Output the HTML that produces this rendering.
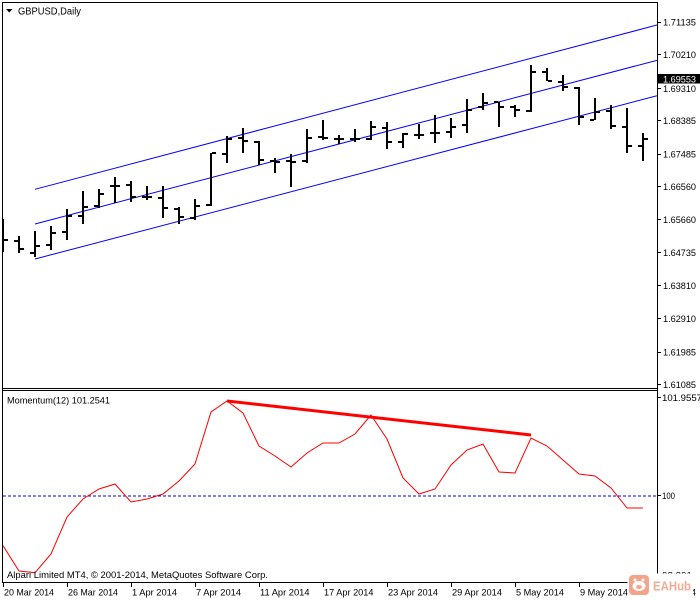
<!DOCTYPE html>
<html><head><meta charset="utf-8"><style>
html,body{margin:0;padding:0;background:#fff;}
svg{display:block;}
text{font-family:"Liberation Sans",Arial,sans-serif;}
</style></head><body>
<svg width="700" height="600" viewBox="0 0 700 600" xmlns="http://www.w3.org/2000/svg">
<defs>
<clipPath id="cm"><rect x="3" y="3" width="654" height="385"/></clipPath>
<clipPath id="ci"><rect x="3" y="391" width="654" height="191"/></clipPath>
<clipPath id="cax"><rect x="658" y="391" width="42" height="191"/></clipPath>
</defs>
<rect x="0" y="0" width="700" height="600" fill="#fff"/>

<!-- frame -->
<g stroke="#000" stroke-width="1" shape-rendering="crispEdges" fill="none">
<line x1="2" y1="2.5" x2="658" y2="2.5"/>
<line x1="2.5" y1="2" x2="2.5" y2="583"/>
<line x1="657.5" y1="2" x2="657.5" y2="583"/>
<line x1="2" y1="388.5" x2="658" y2="388.5"/>
<line x1="2" y1="390.5" x2="658" y2="390.5"/>
<line x1="2" y1="582.5" x2="658" y2="582.5"/>
</g>

<!-- title -->
<polygon points="6,9 12.5,9 9.25,12.5" fill="#000"/>
<text x="18" y="14.5" font-size="10" textLength="63" lengthAdjust="spacingAndGlyphs" fill="#000">GBPUSD,Daily</text>

<!-- channel lines -->
<g clip-path="url(#cm)" stroke="#0000ff" stroke-width="1" fill="none">
<line x1="35" y1="189.3" x2="657" y2="25"/>
<line x1="35" y1="224" x2="657" y2="60.3"/>
<line x1="35" y1="259" x2="657" y2="95.7"/>
</g>

<!-- bars -->
<path clip-path="url(#cm)" stroke="#000" stroke-width="2" fill="none" shape-rendering="crispEdges" d="
M3,219V252M-2,235H2M4,240H8
M19,236V253M14,241H18M20,249H24
M35,231V257M30,253H34M36,246H40
M51,226V250M46,245H50M52,233H56
M67,209V240M62,232H66M68,216H72
M83,191V224M78,216H82M84,207H88
M99,189V208M94,206H98M100,194H104
M115,177V203M110,186H114M116,186H120
M131,181V202M126,185H130M132,197H136
M147,186V200M142,197H146M148,197H152
M163,186V218M158,198H162M164,208H168
M179,207V224M174,209H178M180,217H184
M195,199V220M190,218H194M196,206H200
M211,153V206M206,205H210M212,153H216
M227,136V163M222,154H226M228,139H232
M243,128V153M238,138H242M244,141H248
M259,141V165M254,142H258M260,160H264
M275,158V173M270,161H274M276,162H280
M291,154V187M286,161H290M292,162H296
M307,129V163M302,161H306M308,138H312
M323,120V140M318,137H322M324,138H328
M339,135V144M334,139H338M340,139H344
M355,129V142M350,139H354M356,139H360
M371,121V140M366,139H370M372,127H376
M387,122V149M382,128H386M388,142H392
M403,133V148M398,142H402M404,134H408
M419,124V139M414,135H418M420,135H424
M435,115V143M430,133H434M436,133H440
M451,118V138M446,132H450M452,127H456
M467,99V133M462,125H466M468,110H472
M483,93V110M478,107H482M484,103H488
M499,102V127M494,102H498M500,107H504
M515,105V117M510,107H514M516,110H520
M531,65V112M526,111H530M532,72H536
M547,68V81M542,72H546M548,81H552
M563,75V91M558,82H562M564,87H568
M579,87V125M574,88H578M580,117H584
M595,98V120M590,120H594M596,112H600
M611,105V129M606,111H610M612,126H616
M627,108V153M622,127H626M628,146H632
M643,133V161M638,146H642M644,139H648"/>

<!-- price axis -->
<g stroke="#000" stroke-width="1" shape-rendering="crispEdges">
<line x1="657" y1="22.5" x2="661" y2="22.5"/>
<line x1="657" y1="54.5" x2="661" y2="54.5"/>
<line x1="657" y1="88.5" x2="661" y2="88.5"/>
<line x1="657" y1="120.5" x2="661" y2="120.5"/>
<line x1="657" y1="154.5" x2="661" y2="154.5"/>
<line x1="657" y1="186.5" x2="661" y2="186.5"/>
<line x1="657" y1="219.5" x2="661" y2="219.5"/>
<line x1="657" y1="252.5" x2="661" y2="252.5"/>
<line x1="657" y1="285.5" x2="661" y2="285.5"/>
<line x1="657" y1="318.5" x2="661" y2="318.5"/>
<line x1="657" y1="352.5" x2="661" y2="352.5"/>
<line x1="657" y1="384.5" x2="661" y2="384.5"/>
<line x1="657" y1="397.5" x2="661" y2="397.5"/>
<line x1="657" y1="495.5" x2="661" y2="495.5"/>
</g>
<g font-size="9.5" fill="#000">
<text x="663" y="25.5" textLength="33" lengthAdjust="spacingAndGlyphs">1.71135</text>
<text x="663" y="57.8" textLength="33" lengthAdjust="spacingAndGlyphs">1.70210</text>
<text x="663" y="91.8" textLength="33" lengthAdjust="spacingAndGlyphs">1.69310</text>
<text x="663" y="123.8" textLength="33" lengthAdjust="spacingAndGlyphs">1.68385</text>
<text x="663" y="157.5" textLength="33" lengthAdjust="spacingAndGlyphs">1.67485</text>
<text x="663" y="190.2" textLength="33" lengthAdjust="spacingAndGlyphs">1.66560</text>
<text x="663" y="222.8" textLength="33" lengthAdjust="spacingAndGlyphs">1.65660</text>
<text x="663" y="256.2" textLength="33" lengthAdjust="spacingAndGlyphs">1.64735</text>
<text x="663" y="288.8" textLength="33" lengthAdjust="spacingAndGlyphs">1.63810</text>
<text x="663" y="322.2" textLength="33" lengthAdjust="spacingAndGlyphs">1.62910</text>
<text x="663" y="355.5" textLength="33" lengthAdjust="spacingAndGlyphs">1.61985</text>
<text x="663" y="388.2" textLength="33" lengthAdjust="spacingAndGlyphs">1.61085</text>
</g>
<rect x="658" y="74" width="42" height="9.5" fill="#000"/>
<text x="663" y="82.3" font-size="9.5" fill="#fff" textLength="33" lengthAdjust="spacingAndGlyphs">1.69553</text>

<!-- indicator -->
<text x="7" y="403.5" font-size="9.5" fill="#000" textLength="103" lengthAdjust="spacingAndGlyphs">Momentum(12) 101.2541</text>
<line x1="3" y1="496" x2="657" y2="496" stroke="#0000ff" stroke-width="1" stroke-dasharray="3,2"/>
<g clip-path="url(#ci)" fill="none" stroke="#ff0000">
<polyline stroke-width="1" points="3,545.7 19,571 35,572.7 51,554 67,517 83,499 99,489 115,484 131,502 147,499 163,494 179,481 195,464 211,412 227,401 243,413 259,446 275,456 291,467 307,453 323,443 339,443 355,434 371,415 387,439 403,478 419,494 435,489 451,465 467,450 483,444 499,472 515,473 531,438 547,446 563,460 579,474 595,476 611,488 627,508 643,508"/>
<line x1="227" y1="401" x2="531" y2="435" stroke-width="3"/>
</g>
<text x="7" y="578" font-size="9.5" fill="#000" textLength="261" lengthAdjust="spacingAndGlyphs">Alpari Limited MT4, © 2001-2014, MetaQuotes Software Corp.</text>

<g font-size="9.5" fill="#000">
<text x="662" y="400.8" textLength="40" lengthAdjust="spacingAndGlyphs">101.9557</text>
<text x="662" y="499.2" textLength="13" lengthAdjust="spacingAndGlyphs">100</text>
<text x="662" y="578.5" textLength="30" lengthAdjust="spacingAndGlyphs" clip-path="url(#cax)">98.391</text>
</g>

<!-- time axis -->
<g stroke="#000" stroke-width="1" shape-rendering="crispEdges">
<line x1="3.5" y1="582" x2="3.5" y2="587"/>
<line x1="67.5" y1="582" x2="67.5" y2="587"/>
<line x1="131.5" y1="582" x2="131.5" y2="587"/>
<line x1="195.5" y1="582" x2="195.5" y2="587"/>
<line x1="259.5" y1="582" x2="259.5" y2="587"/>
<line x1="323.5" y1="582" x2="323.5" y2="587"/>
<line x1="387.5" y1="582" x2="387.5" y2="587"/>
<line x1="451.5" y1="582" x2="451.5" y2="587"/>
<line x1="515.5" y1="582" x2="515.5" y2="587"/>
<line x1="579.5" y1="582" x2="579.5" y2="587"/>
<line x1="643.5" y1="582" x2="643.5" y2="587"/>
</g>
<g font-size="9.5" fill="#000">
<text x="4" y="595.5" textLength="50" lengthAdjust="spacingAndGlyphs">20 Mar 2014</text>
<text x="68" y="595.5" textLength="50" lengthAdjust="spacingAndGlyphs">26 Mar 2014</text>
<text x="132" y="595.5" textLength="45" lengthAdjust="spacingAndGlyphs">1 Apr 2014</text>
<text x="196" y="595.5" textLength="45" lengthAdjust="spacingAndGlyphs">7 Apr 2014</text>
<text x="260" y="595.5" textLength="49.5" lengthAdjust="spacingAndGlyphs">11 Apr 2014</text>
<text x="324" y="595.5" textLength="49.5" lengthAdjust="spacingAndGlyphs">17 Apr 2014</text>
<text x="388" y="595.5" textLength="50" lengthAdjust="spacingAndGlyphs">23 Apr 2014</text>
<text x="452" y="595.5" textLength="50" lengthAdjust="spacingAndGlyphs">29 Apr 2014</text>
<text x="516" y="595.5" textLength="48" lengthAdjust="spacingAndGlyphs">5 May 2014</text>
<text x="580" y="595.5" textLength="48" lengthAdjust="spacingAndGlyphs">9 May 2014</text>
<text x="644" y="595.5" textLength="52" lengthAdjust="spacingAndGlyphs">15 May 2014</text>
</g>

<!-- watermark -->
<rect x="627.5" y="573.5" width="65.5" height="26.5" fill="#fff"/>
<rect x="629" y="575" width="20" height="20" rx="4" fill="#f4a48a"/>
<ellipse cx="639" cy="586" rx="6.5" ry="5" fill="#fff"/>
<ellipse cx="639" cy="587" rx="3" ry="2" fill="#f4a48a"/>
<circle cx="635" cy="580" r="1.5" fill="#fff"/>
<circle cx="643" cy="580" r="1.5" fill="#fff"/>
<text x="653" y="590.5" font-size="13" font-weight="bold" fill="#f4ab93" textLength="38" lengthAdjust="spacingAndGlyphs">EAHub</text>
</svg>
</body></html>
